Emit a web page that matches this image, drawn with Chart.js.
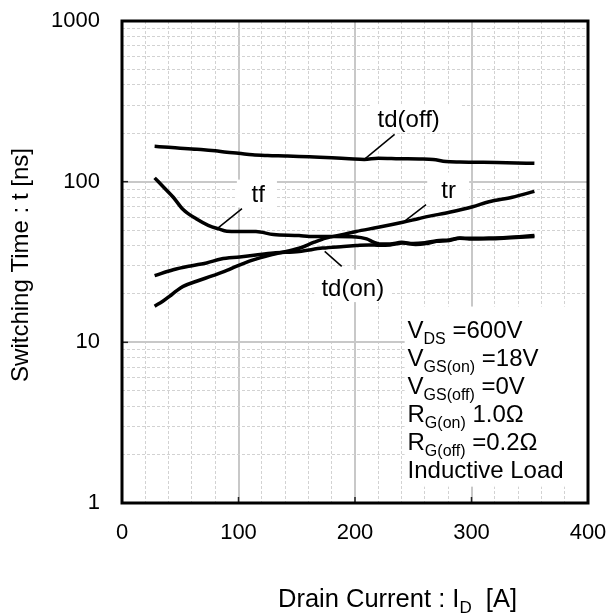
<!DOCTYPE html>
<html><head><meta charset="utf-8">
<script src="https://cdn.jsdelivr.net/npm/chart.js@4"></script>
<style>html,body{margin:0;padding:0;background:#fff}</style>
</head><body>
<canvas id="c" width="609" height="616"></canvas>
<script>
const FONT = "'Liberation Sans', Arial, sans-serif";

// ---- tick labels ----
const xTickLabels = [0, 100, 200, 300, 400];
const yTickLabels = [1, 10, 100, 1000];

// ---- series (Drain current [A] -> switching time [ns]) ----
const tdOffI = [28, 40, 50, 60, 70, 80, 90, 100, 112, 125, 140, 152, 165, 180, 195, 208, 220, 238, 255, 267, 278, 290, 310, 330, 354];
const tdOffT = [166, 163.5, 161.5, 159.5, 158, 155.5, 152.5, 150.3, 147, 145.5, 144.5, 143.6, 142.3, 140.8, 139, 137.6, 140, 139, 138.3, 137.4, 133.5, 132.5, 132, 131, 130];

const tfI = [28, 36, 44, 52.5, 64, 74, 83, 90, 100, 115, 130, 152, 161, 180, 201, 210, 216, 221, 230, 240, 250, 260, 270, 281, 290, 300, 315, 330, 354];
const tfT = [105.6, 92, 80, 67, 58.5, 53.5, 50.8, 49.2, 49, 48.9, 46.9, 46.2, 45.6, 45.5, 45.3, 44, 42, 41, 41, 41.9, 41.2, 41.7, 42.9, 43.4, 44.6, 44.4, 44.6, 45, 46.2];

const tdOnI = [28, 44, 60, 72.6, 85, 101, 115, 130, 152, 172, 190, 201, 212, 221, 230, 241, 252, 261, 270, 281, 290, 298, 315, 330, 354];
const tdOnT = [26, 28.3, 30, 31.2, 33, 34, 35, 36, 36.8, 38.6, 39.5, 40, 40.4, 40.2, 40.4, 41.5, 40.7, 41.2, 42.5, 43, 44.5, 43.9, 44.1, 44.6, 45.6];

const trI = [28, 35, 41, 47, 52.5, 64, 78, 90, 98, 112, 130, 152, 165, 175, 190, 201, 220, 241, 255, 264, 281, 301, 315, 335, 354];
const trT = [16.8, 18, 19.4, 21, 22.3, 24, 26, 28, 29.7, 32.5, 35.3, 38.5, 42, 44.5, 47, 49, 52, 55.9, 59, 61, 64.5, 69.8, 75, 80, 87];

// ---- annotation texts ----
const seriesLabels = ['td(off)', 'tf', 'tr', 'td(on)'];
const conditionLines = [
  [['V', 0], ['DS', 1], [' =600V', 0]],
  [['V', 0], ['GS(on)', 1], [' =18V', 0]],
  [['V', 0], ['GS(off)', 1], [' =0V', 0]],
  [['R', 0], ['G(on)', 1], [' 1.0\u03A9', 0]],
  [['R', 0], ['G(off)', 1], [' =0.2\u03A9', 0]],
  [['Inductive Load', 0]]
];
const xTitle = [['Drain Current : I', 0], ['D', 1], ['  [A]', 0]];
const yTitle = 'Switching Time : t [ns]';

// annotation placement (data coordinates)
const labelPlace = [
  {box: [214, 291, 202, 303], text: [219.4, 220], lead: [[234, 197], [208, 137.6]]},
  {box: [98.6, 133, 69, 103], text: [111.2, 74.5], lead: [[103, 68], [82, 51.2]]},
  {box: [262, 298, 74, 114], text: [274, 79.3], lead: [[261, 72], [241, 55.6]]},
  {box: [165, 230, 17.8, 28.3], text: [171.2, 19.3], lead: [[188.6, 29.7], [174, 36.8]]}
];
const condBox = [242.6, 400, 1.264, 16.7];
const condAnchor = [245.1, 10.7];

const yGridVals = [];
for (let d = 1; d < 1000; d *= 10) for (let k = 1; k < 10; k++) yGridVals.push(d * k);
yGridVals.push(1000);

const zip = (a, b) => a.map((v, i) => ({x: v, y: b[i]}));
const mk = (data) => ({data, borderColor: '#000', borderWidth: 3.5, pointRadius: 0, fill: false, cubicInterpolationMode: 'monotone'});

function drawRich(ctx, x, y, parts, size, subSize, subDy) {
  let cx = x;
  for (const [t, sub] of parts) {
    ctx.font = (sub ? subSize : size) + 'px ' + FONT;
    ctx.fillText(t, cx, sub ? y + subDy : y);
    cx += ctx.measureText(t).width;
  }
  return cx - x;
}

const deco = {
  id: 'deco',
  beforeDatasetsDraw(chart) {
    const {ctx, scales: {x, y}} = chart;
    ctx.save();
    ctx.fillStyle = '#fff';
    for (const p of labelPlace) {
      const [x0, x1, y0, y1] = p.box;
      const L = x.getPixelForValue(x0), R = x.getPixelForValue(x1);
      const T = y.getPixelForValue(y1), B = y.getPixelForValue(y0);
      ctx.fillRect(L, T, R - L, B - T);
    }
    {
      const [x0, x1, y0, y1] = condBox;
      const L = x.getPixelForValue(x0), R = x.getPixelForValue(x1);
      const T = y.getPixelForValue(y1), B = y.getPixelForValue(y0);
      ctx.fillRect(L, T, R - L, B - T);
    }
    ctx.restore();
  },
  afterDatasetsDraw(chart) {
    const {ctx, chartArea: a, scales: {x, y}} = chart;
    ctx.save();
    ctx.strokeStyle = '#000';
    ctx.lineWidth = 1.5;
    ctx.fillStyle = '#000';
    ctx.textBaseline = 'alphabetic';
    ctx.textAlign = 'left';
    labelPlace.forEach((p, i) => {
      ctx.beginPath();
      ctx.moveTo(x.getPixelForValue(p.lead[0][0]), y.getPixelForValue(p.lead[0][1]));
      ctx.lineTo(x.getPixelForValue(p.lead[1][0]), y.getPixelForValue(p.lead[1][1]));
      ctx.stroke();
      ctx.font = '24px ' + FONT;
      ctx.fillText(seriesLabels[i], x.getPixelForValue(p.text[0]), y.getPixelForValue(p.text[1]));
    });
    const cx = x.getPixelForValue(condAnchor[0]);
    const cy = y.getPixelForValue(condAnchor[1]);
    conditionLines.forEach((ln, i) => drawRich(ctx, cx, cy + i * 28, ln, 24, 16, 6));
    ctx.strokeStyle = '#222';
    ctx.lineWidth = 1.5;
    for (const v of xTickLabels.slice(1, -1)) {
      const px = x.getPixelForValue(v);
      ctx.beginPath(); ctx.moveTo(px, a.bottom); ctx.lineTo(px, a.bottom - 6); ctx.stroke();
    }
    for (const v of yTickLabels.slice(1, -1)) {
      const py = y.getPixelForValue(v);
      ctx.beginPath(); ctx.moveTo(a.left, py); ctx.lineTo(a.left + 6, py); ctx.stroke();
    }
    ctx.strokeStyle = '#000';
    ctx.lineWidth = 3;
    ctx.strokeRect(a.left, a.top, a.right - a.left, a.bottom - a.top);
    ctx.fillStyle = '#000';
    drawRich(ctx, 278, 607, xTitle, 25.5, 17, 6);
    ctx.translate(28, (a.top + a.bottom) / 2 + 3);
    ctx.rotate(-Math.PI / 2);
    ctx.textAlign = 'center';
    ctx.font = '24px ' + FONT;
    ctx.fillText(yTitle, 0, 0);
    ctx.restore();
  }
};

const isMajX = v => xTickLabels.includes(v);
const isMajY = v => yTickLabels.includes(v);

new Chart(document.getElementById('c'), {
  type: 'line',
  data: {datasets: [mk(zip(tdOffI, tdOffT)), mk(zip(tfI, tfT)), mk(zip(tdOnI, tdOnT)), mk(zip(trI, trT))]},
  options: {
    responsive: false,
    animation: false,
    devicePixelRatio: 1,
    layout: {padding: {top: 21, right: 21, left: 0, bottom: 0}},
    plugins: {legend: {display: false}, tooltip: {enabled: false}},
    scales: {
      x: {
        type: 'linear', min: 0, max: 400,
        afterFit: s => { s.height = 113; s.paddingLeft = 0; s.paddingRight = 0; },
        ticks: {
          stepSize: 20, autoSkip: false, maxRotation: 0, padding: 17, color: '#000',
          font: {family: FONT, size: 22},
          callback: v => isMajX(v) ? String(v) : ''
        },
        grid: {
          drawTicks: false,
          color: c => (c.tick && isMajX(c.tick.value)) ? '#c8c8c8' : '#d2d2d2',
          lineWidth: c => (c.tick && isMajX(c.tick.value)) ? 2 : 1
        },
        border: {display: false, dash: c => (c.tick && isMajX(c.tick.value)) ? [] : [3, 2]}
      },
      y: {
        type: 'logarithmic', min: 1, max: 1000,
        afterFit: s => { s.width = 122; s.paddingTop = 0; s.paddingBottom = 0; },
        afterBuildTicks: s => { s.ticks = yGridVals.map(v => ({value: v, major: isMajY(v)})); },
        ticks: {
          autoSkip: false, padding: 22, color: '#000',
          font: {family: FONT, size: 22},
          callback: v => isMajY(v) ? String(v) : ''
        },
        grid: {
          drawTicks: false,
          color: c => (c.tick && isMajY(c.tick.value)) ? '#c8c8c8' : '#d2d2d2',
          lineWidth: c => (c.tick && isMajY(c.tick.value)) ? 2 : 1
        },
        border: {display: false, dash: c => (c.tick && isMajY(c.tick.value)) ? [] : [3, 2]}
      }
    }
  },
  plugins: [deco]
});
</script>
</body></html>
